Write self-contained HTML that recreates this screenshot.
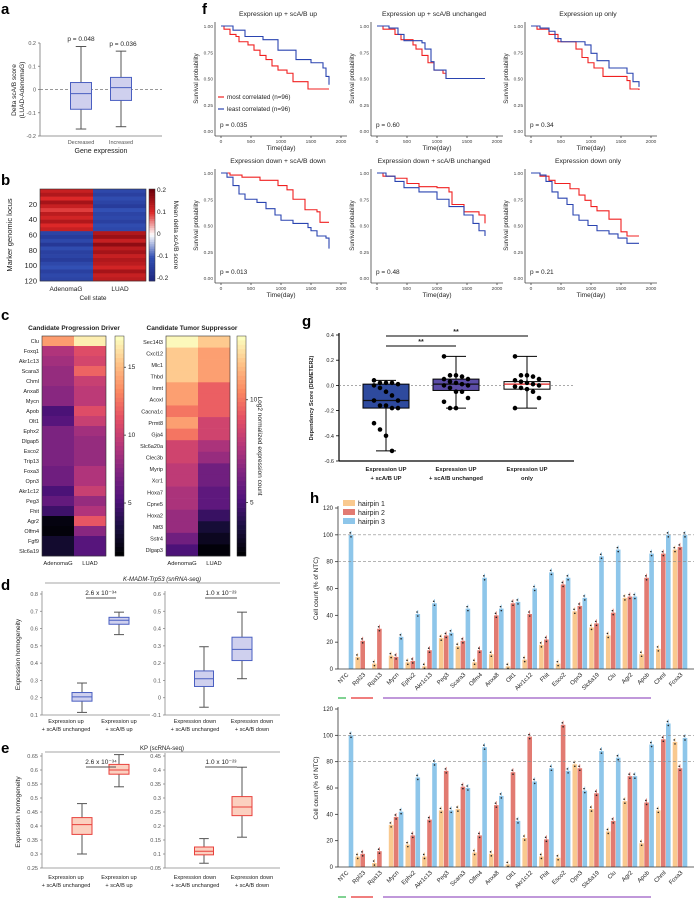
<!DOCTYPE html>
<html><head><meta charset="utf-8"><style>
html,body{margin:0;padding:0;background:#fff;}
svg{display:block;font-family:"Liberation Sans",Arial,sans-serif;}
</style></head><body>
<svg id="fig" width="697" height="900" viewBox="0 0 697 900" xmlns="http://www.w3.org/2000/svg"></svg>
<script>
// ---------------- DATA ----------------
// panel a
const aCats = ["Decreased","Increased"];
const aStats = [[-0.17,-0.085,-0.018,0.03,0.185],[-0.16,-0.047,0.008,0.052,0.165]];
const aP = ["p = 0.048","p = 0.036"];
// panel b (24 bands of 5 rows)
const bAden = [0.12,0.14,0.10,0.15,0.12,0.09,0.13,0.11,0.14,0.10,0.12,-0.13,-0.15,-0.12,-0.16,-0.11,-0.14,-0.13,-0.15,-0.12,-0.10,-0.14,-0.12,-0.13];
const bLuad = [-0.12,-0.14,-0.11,-0.13,-0.15,-0.10,-0.13,-0.12,-0.14,-0.11,-0.12,0.14,0.16,0.12,0.17,0.13,0.15,0.12,0.14,0.13,0.11,0.15,0.12,0.13];
// panel c
const cDrvGenes = ["Clu","Foxq1","Akr1c13","Scara3","Chml","Anxa8","Mycn","Apob","Olt1","Ephx2","Dlgap5","Esco2","Trip13","Foxa3","Opn3","Akr1c12","Peg3","Fhit","Agr2","Olfm4","Fgf9","Slc6a19"];
const cDrvAden = [14,9,8.5,8,8,7.5,7.5,5,5.5,7,7,7,7,6.5,6.5,5,6,4.5,1.5,1.3,2.5,2.5];
const cDrvLuad = [16.8,11,10.5,12,10,9.5,9.5,11,10,8.5,8,8,8,9,9,10,8,9,11.5,7.5,5.5,5.5];
const cSupGenes = ["Sec14l3","Cxcl12","Mlc1","Thbd","Inmt","Acoxl","Cacna1c","Prmt8","Gja4","Slc6a20a","Clec3b","Myrip","Xcr1","Hoxa7","Cpne5","Hoxa2","Ntf3","Sstr4","Dlgap3"];
const cSupAden = [13,12,12,12,11,11,10,11,10,8.5,8.5,8,8,7.5,7.5,7,7,6,5];
const cSupLuad = [12,11,11,11,9.5,9.5,9.5,8.5,8.5,7.5,7,6,6,5.5,5.5,4.5,3.5,3,2.5];
// panel d/e
const dLeft = [[0.115,0.18,0.205,0.23,0.285],[0.565,0.625,0.648,0.665,0.695]];
const dRight = [[-0.055,0.065,0.11,0.155,0.295],[0.11,0.215,0.28,0.35,0.495]];
const eLeft = [[0.3,0.37,0.405,0.43,0.48],[0.54,0.585,0.6,0.62,0.655]];
const eRight = [[0.067,0.097,0.11,0.125,0.155],[0.16,0.237,0.268,0.305,0.41]];
// panel f (KM step curves [day, survival])
const fTitles = ["Expression up + scA/B up","Expression up + scA/B unchanged","Expression up only","Expression down + scA/B down","Expression down + scA/B unchanged","Expression down only"];
const fP = ["p = 0.035","p = 0.60","p = 0.34","p = 0.013","p = 0.48","p = 0.21"];
const fRed = [
 [[0,1],[50,.97],[150,.92],[250,.9],[300,.85],[450,.82],[550,.77],[650,.72],[750,.68],[850,.62],[950,.58],[1100,.55],[1200,.47],[1450,.4],[1800,.4]],
 [[0,1],[100,.97],[300,.92],[400,.87],[600,.82],[650,.78],[750,.72],[850,.65],[950,.58],[1100,.55],[1150,.5],[1800,.5]],
 [[0,1],[100,.97],[300,.92],[450,.85],[750,.78],[850,.7],[950,.65],[1050,.6],[1200,.52],[1600,.48],[1650,.4],[1800,.39]],
 [[0,1],[150,.98],[350,.96],[650,.93],[950,.88],[1100,.84],[1200,.75],[1400,.65],[1600,.63],[1650,.53],[1800,.53]],
 [[0,1],[100,.97],[300,.95],[500,.9],[700,.87],[1000,.86],[1200,.82],[1250,.7],[1450,.63],[1700,.6],[1800,.52]],
 [[0,1],[150,.97],[300,.93],[400,.9],[650,.85],[800,.79],[900,.74],[1000,.68],[1100,.64],[1300,.56],[1500,.44],[1600,.4],[1800,.4]]];
const fBlue = [
 [[0,1],[200,.96],[400,.9],[700,.87],[950,.77],[1250,.68],[1500,.65],[1700,.6],[1750,.52],[1800,.44]],
 [[0,1],[200,.98],[350,.92],[450,.86],[750,.84],[800,.78],[900,.66],[950,.58],[1150,.5],[1800,.5]],
 [[0,1],[150,.98],[300,.95],[400,.88],[500,.85],[900,.82],[1000,.74],[1100,.67],[1300,.6],[1600,.55],[1700,.47],[1800,.42]],
 [[0,1],[100,.96],[200,.88],[300,.8],[400,.75],[600,.72],[750,.66],[900,.6],[1000,.55],[1200,.52],[1450,.48],[1500,.45],[1600,.4],[1750,.38],[1800,.28]],
 [[0,1],[150,.97],[300,.92],[450,.86],[700,.82],[1000,.75],[1200,.68],[1450,.6],[1600,.52],[1700,.45],[1800,.4]],
 [[0,1],[150,.98],[250,.92],[350,.82],[450,.76],[600,.7],[700,.6],[800,.55],[950,.5],[1100,.45],[1300,.42],[1450,.38],[1600,.33],[1800,.33]]];
// panel g
const gCats = [["Expression UP","+ scA/B UP"],["Expression UP","+ scA/B unchanged"],["Expression UP","only"]];
const gStats = [[-0.52,-0.18,-0.12,0.01,0.04],[-0.18,-0.04,0.01,0.05,0.23],[-0.18,-0.03,0.01,0.03,0.23]];
const gPts1 = [0.04,0.02,0.02,0.02,0.01,0.0,-0.02,-0.05,-0.08,-0.12,-0.12,-0.16,-0.16,-0.18,-0.18,-0.3,-0.35,-0.4,-0.52];
const gPts2 = [0.23,0.08,0.08,0.07,0.05,0.05,0.03,0.02,0.01,0,0,-0.02,-0.05,-0.05,-0.1,-0.13,-0.18,-0.18];
const gPts3 = [0.23,0.08,0.08,0.07,0.05,0.04,0.03,0.02,0.01,0,-0.01,-0.02,-0.03,-0.05,-0.1,-0.18];
// panel h
const hGenes = ["NTC","Rpl23","Rpa13","Mycn","Ephx2","Akr1c13","Peg3","Scara3","Olfm4","Anxa8","Olt1","Akr1c12","Fhit","Esco2","Opn3","Slc6a19","Clu","Agr2","Apob","Chml","Foxa3"];
const hTop1 = [null,9,4,10,5,2,23,17,5,11,2,7,18,4,43,31,25,53,11,15,89];
const hTop2 = [null,21,30,9,6,14,25,21,14,40,49,41,22,63,47,34,42,54,68,86,91];
const hTop3 = [100,null,null,24,41,49,27,45,68,45,50,60,72,68,53,84,89,54,86,100,100];
const hBot1 = [null,8,3,32,17,8,43,44,11,10,2,22,8,7,78,44,27,50,18,43,95];
const hBot2 = [null,10,12,38,24,36,73,61,24,47,72,99,21,108,75,56,35,69,49,97,75];
const hBot3 = [100,null,null,42,68,79,43,60,91,54,35,65,75,73,58,88,83,69,93,109,98];
const hYTicks = [0,20,40,60,80,100,120];

// ---------------- HELPERS ----------------
const NS="http://www.w3.org/2000/svg";
const svg=document.getElementById('fig');
function mk(tag,attrs,parent){const e=document.createElementNS(NS,tag);for(const k in attrs)e.setAttribute(k,attrs[k]);(parent||svg).appendChild(e);return e;}
function txt(x,y,s,size,opts){opts=opts||{};const e=mk('text',{x:x,y:y,'font-size':size,fill:opts.fill||'#222','text-anchor':opts.anchor||'start','font-weight':opts.bold?'bold':'normal'});if(opts.rot!==undefined)e.setAttribute('transform','rotate('+opts.rot+' '+x+' '+y+')');if(opts.italic)e.setAttribute('font-style','italic');e.textContent=s;return e;}
function lin(d0,d1,r0,r1){return v=>r0+(v-d0)*(r1-r0)/(d1-d0);}
function line(x1,y1,x2,y2,st,w,dash){const e=mk('line',{x1:x1,y1:y1,x2:x2,y2:y2,stroke:st||'#333','stroke-width':w||0.8});if(dash)e.setAttribute('stroke-dasharray',dash);return e;}
function magma(t){const s=[[0,0,0,4],[.13,28,16,68],[.25,79,18,123],[.38,129,37,129],[.5,181,54,122],[.63,229,80,100],[.75,251,135,97],[.88,254,194,135],[1,252,253,191]];t=Math.max(0,Math.min(1,t));for(let i=1;i<s.length;i++){if(t<=s[i][0]){const a=s[i-1],b=s[i],f=(t-a[0])/(b[0]-a[0]);return 'rgb('+[1,2,3].map(j=>Math.round(a[j]+f*(b[j]-a[j]))).join(',')+')';}}return 'rgb(252,253,191)';}
function rdbu(v){const t=(v+0.2)/0.4;const s=[[0,30,40,130],[.25,50,80,180],[.5,255,255,255],[.75,220,40,40],[1,110,0,10]];for(let i=1;i<s.length;i++){if(t<=s[i][0]){const a=s[i-1],b=s[i],f=(t-a[0])/(b[0]-a[0]);return 'rgb('+[1,2,3].map(j=>Math.round(a[j]+f*(b[j]-a[j]))).join(',')+')';}}return 'rgb(110,0,10)';}
function box(cx,w,st,y,fill,stroke,name){
 const g=mk('g',{});
 
 
 mk('line',{x1:cx,y1:y(st[0]),x2:cx,y2:y(st[4]),stroke:'#555','stroke-width':1},g);
 mk('line',{x1:cx-w/4,y1:y(st[0]),x2:cx+w/4,y2:y(st[0]),stroke:'#555','stroke-width':1},g);
 mk('line',{x1:cx-w/4,y1:y(st[4]),x2:cx+w/4,y2:y(st[4]),stroke:'#555','stroke-width':1},g);
 mk('rect',{x:cx-w/2,y:y(st[3]),width:w,height:y(st[1])-y(st[3]),fill:fill,stroke:stroke,'stroke-width':1},g);
 mk('line',{x1:cx-w/2,y1:y(st[2]),x2:cx+w/2,y2:y(st[2]),stroke:stroke,'stroke-width':1},g);
 return g;}
function label(x,y,s){const t=txt(x,y,s,15,{bold:true,fill:'#000'});}

// ---------------- PANEL A ----------------
label(1,14,'a');
(function(){
 const y=lin(-0.2,0.2,136,43);
 line(40,43,40,136,'#777');line(40,136,162,136,'#777');
 [0.2,0.1,0,-0.1,-0.2].forEach(v=>{line(38,y(v),40,y(v),'#777');txt(36,y(v)+2,String(v),5.5,{anchor:'end',fill:'#555'});});
 line(40,y(0),162,y(0),'#777',0.8,'3,2');
 const xs=[81,121];
 aStats.forEach((s,i)=>box(xs[i],21,s,y,'#cfd0ee','#4a5fc1','a-box-'+aCats[i].toLowerCase()));
 aCats.forEach((c,i)=>txt(xs[i],144,c,5.5,{anchor:'middle',fill:'#555'}));
 aP.forEach((p,i)=>txt(xs[i]+(i?2:0),i?46:41,p,6.5,{anchor:'middle'}));
 txt(101,153,'Gene expression',7,{anchor:'middle'});
 txt(16,90,'Delta scA/B score',6.5,{anchor:'middle',rot:-90});
 txt(24,90,'(LUAD-AdenomaG)',6.5,{anchor:'middle',rot:-90});
})();

// ---------------- PANEL B ----------------
label(1,185,'b');
(function(){
 const y0=189,rowH=92/24;
 const hm=mk('g',{});
 
 
 bAden.forEach((v,i)=>mk('rect',{x:40,y:y0+i*rowH,width:53,height:rowH+0.3,fill:rdbu(v)},hm));
 bLuad.forEach((v,i)=>mk('rect',{x:93,y:y0+i*rowH,width:53,height:rowH+0.3,fill:rdbu(v)},hm));
 mk('rect',{x:40,y:y0,width:106,height:92,fill:'none',stroke:'#333','stroke-width':0.6});
 [20,40,60,80,100,120].forEach(r=>{const yy=y0+r*92/120;txt(37,yy+2.5,String(r),7.5,{anchor:'end'});});
 txt(12,235,'Marker genomic locus',7.5,{anchor:'middle',rot:-90});
 for(let i=0;i<40;i++){mk('rect',{x:149,y:y0+i*92/40,width:6,height:92/40+0.3,fill:rdbu(0.2-i*0.4/39)});}
 mk('rect',{x:149,y:y0,width:6,height:92,fill:'none',stroke:'#333','stroke-width':0.5});
 ['0.2','0.1','0','-0.1','-0.2'].forEach((s,i)=>txt(157,y0+3+i*22,s,6.5));
 txt(174,235,'Mean delta scA/B score',6.5,{anchor:'middle',rot:90});
 txt(66,291,'AdenomaG',6.5,{anchor:'middle'});txt(120,291,'LUAD',6.5,{anchor:'middle'});
 txt(93,300,'Cell state',6.5,{anchor:'middle'});
})();

// ---------------- PANEL C ----------------
label(1,320,'c');
(function(){
 txt(74,330,'Candidate Progression Driver',6.5,{anchor:'middle',bold:true});
 txt(192,330,'Candidate Tumor Suppressor',6.5,{anchor:'middle',bold:true});
 function hm(genes,a,l,x0,cb,vmin,vmax,name){
  const g=mk('g',{});
  
  
  const rh=220/genes.length;
  genes.forEach((gn,i)=>{
   mk('rect',{x:x0,y:336+i*rh,width:32,height:rh+0.3,fill:magma((a[i]-vmin)/(vmax-vmin))},g);
   mk('rect',{x:x0+32,y:336+i*rh,width:32,height:rh+0.3,fill:magma((l[i]-vmin)/(vmax-vmin))},g);
   txt(x0-3,336+i*rh+rh/2+2,gn,5.5,{anchor:'end'});
  });
  mk('rect',{x:x0,y:336,width:64,height:220,fill:'none',stroke:'#333','stroke-width':0.6});
  for(let i=0;i<50;i++){mk('rect',{x:cb,y:336+i*4.4,width:9,height:4.7,fill:magma(1-i/49)});}
  mk('rect',{x:cb,y:336,width:9,height:220,fill:'none',stroke:'#333','stroke-width':0.5});
  txt(x0+16,565,'AdenomaG',5.8,{anchor:'middle'});txt(x0+48,565,'LUAD',5.8,{anchor:'middle'});
 }
 hm(cDrvGenes,cDrvAden,cDrvLuad,42,115,1.1,17.3,'c-driver-heatmap');
 [15,10,5].forEach(v=>{const yy=lin(1.1,17.3,556,336)(v);line(124,yy,126,yy);txt(128,yy+2,String(v),6.5);});
 hm(cSupGenes,cSupAden,cSupLuad,166,237,2.4,13.1,'c-suppressor-heatmap');
 [10,5].forEach(v=>{const yy=lin(2.4,13.1,556,336)(v);line(246,yy,248,yy);txt(250,yy+2,String(v),6.5);});
 txt(258,446,'Log2 normalized expression count',6.5,{anchor:'middle',rot:90});
})();

// ---------------- PANEL D / E ----------------
function homPanel(top,head,italic,ticksL,ticksR,left,right,fill,stroke,pre,yAx0,yAx1,lblY){
 line(45,top,280,top,'#888',0.8);
 txt(162,top-2,head[0],6,{anchor:'middle',italic:italic});
 const yL=lin(ticksL[0],ticksL[ticksL.length-1],yAx1,yAx0);
 const yR=lin(ticksR[0],ticksR[ticksR.length-1],yAx1,yAx0);
 line(42,yAx0-3,42,yAx1,'#888');line(42,yAx1,150,yAx1,'#888');
 line(165,yAx0-3,165,yAx1,'#888');line(165,yAx1,280,yAx1,'#888');
 ticksL.forEach(v=>{line(40,yL(v),42,yL(v),'#888');txt(38,yL(v)+2,String(v),5.5,{anchor:'end',fill:'#555'});});
 ticksR.forEach(v=>{line(163,yR(v),165,yR(v),'#888');txt(161,yR(v)+2,String(v),5.5,{anchor:'end',fill:'#555'});});
 box(82,20,left[0],yL,fill,stroke,pre+'-box-1');box(119,20,left[1],yL,fill,stroke,pre+'-box-2');
 box(204,19,right[0],yR,fill,stroke,pre+'-box-3');box(242,20,right[1],yR,fill,stroke,pre+'-box-4');
 line(86,top+15,116,top+15,'#555',0.9);line(205,top+15,237,top+15,'#555',0.9);
 txt(101,top+12,'2.6 x 10⁻³⁴',6.5,{anchor:'middle'});txt(221,top+12,'1.0 x 10⁻²³',6.5,{anchor:'middle'});
 txt(20,(yAx0+yAx1)/2,'Expression homogeneity',6.5,{anchor:'middle',rot:-90});
 const lbl=[[66,'Expression up','+ scA/B unchanged'],[119,'Expression up','+ scA/B up'],[195,'Expression down','+ scA/B unchanged'],[252,'Expression down','+ scA/B down']];
 lbl.forEach(l=>{txt(l[0],lblY,l[1],5.6,{anchor:'middle'});txt(l[0],lblY+8,l[2],5.6,{anchor:'middle'});});
}
label(1,590,'d');
homPanel(583,['K-MADM-Trp53 (snRNA-seq)'],true,[0.1,0.2,0.3,0.4,0.5,0.6,0.7,0.8],[-0.1,0,0.1,0.2,0.3,0.4,0.5,0.6],dLeft,dRight,'#cfd0ee','#4a5fc1','d',594,715,723);
label(1,753,'e');
homPanel(752,['KP (scRNA-seq)'],false,[0.25,0.3,0.35,0.4,0.45,0.5,0.55,0.6,0.65],[0.05,0.1,0.15,0.2,0.25,0.3,0.35,0.4,0.45],eLeft,eRight,'#fbd0c0','#e8413c','e',756,868,879);

// ---------------- PANEL F ----------------
label(202,14,'f');
(function(){
 const ox=[215,371,525], oy=[[26,131],[173,278]];
 fTitles.forEach((t,k)=>{
  const c=k%3,r=Math.floor(k/3);
  const ax=ox[c], y=lin(0,1,oy[r][1],oy[r][0]), x=lin(0,2000,ax+6,ax+126);
  const g=mk('g',{});
  
  
  line(ax,oy[r][0]-4,ax,oy[r][1]+5,'#444');line(ax,oy[r][1]+5,ax+132,oy[r][1]+5,'#444');
  [0,.25,.5,.75,1].forEach(v=>txt(ax-2,y(v)+2,v.toFixed(2),4.8,{anchor:'end',fill:'#444'}));
  [0,500,1000,1500,2000].forEach(v=>{line(x(v),oy[r][1]+5,x(v),oy[r][1]+7,'#444');txt(x(v),oy[r][1]+12,String(v),4.8,{anchor:'middle',fill:'#444'});});
  txt(ax+66,oy[r][1]+19,'Time(day)',6.5,{anchor:'middle'});
  txt(ax-17,(oy[r][0]+oy[r][1])/2,'Survival probability',6,{anchor:'middle',rot:-90});
  txt(ax+63,oy[r][0]-10,t,6.8,{anchor:'middle'});
  [[fRed[k],'#f02020'],[fBlue[k],'#2a44b0']].forEach(sc=>{
   let d='M'+x(sc[0][0][0])+' '+y(sc[0][0][1]);
   for(let i=1;i<sc[0].length;i++){d+=' H'+x(sc[0][i][0])+' V'+y(sc[0][i][1]);}
   const p=mk('path',{d:d,fill:'none',stroke:sc[1],'stroke-width':1.1},g);
   
   
  });
  txt(ax+5,oy[r][1]-4,fP[k],6.5);
 });
 line(218,97,224,97,'#f02020',1.2);txt(227,99,'most correlated (n=96)',6.3);
 line(218,109,224,109,'#2a44b0',1.2);txt(227,111,'least correlated (n=96)',6.3);
})();

// ---------------- PANEL G ----------------
label(302,326,'g');
(function(){
 const y=lin(-0.6,0.4,461,335);
 const xs=[386,456,527];
 line(339,333,339,461,'#000',1.2);line(339,461,574,461,'#000',1.2);
 [0.4,0.2,0,-0.2,-0.4,-0.6].forEach(v=>{line(336,y(v),339,y(v),'#000');txt(334,y(v)+2,v.toFixed(1),5.5,{anchor:'end'});});
 line(339,y(0),574,y(0),'#777',0.6,'2,2');
 txt(313,398,'Dependency Score (DEMETER2)',5.5,{anchor:'middle',rot:-90,bold:true});
 const fills=['#2e4a9e','#5b4ca6','#ffffff'], meds=['#111','#111','#e02020'];
 const pts=[gPts1,gPts2,gPts3];
 gStats.forEach((s,i)=>{
  const g=mk('g',{});
  
  
  mk('line',{x1:xs[i],y1:y(s[0]),x2:xs[i],y2:y(s[4]),stroke:'#000','stroke-width':1},g);
  mk('line',{x1:xs[i]-10,y1:y(s[0]),x2:xs[i]+10,y2:y(s[0]),stroke:'#000','stroke-width':1},g);
  mk('line',{x1:xs[i]-10,y1:y(s[4]),x2:xs[i]+10,y2:y(s[4]),stroke:'#000','stroke-width':1},g);
  mk('rect',{x:xs[i]-23,y:y(s[3]),width:46,height:y(s[1])-y(s[3]),fill:fills[i],stroke:'#000','stroke-width':1},g);
  mk('line',{x1:xs[i]-23,y1:y(s[2]),x2:xs[i]+23,y2:y(s[2]),stroke:meds[i],'stroke-width':1.2},g);
  pts[i].forEach((v,j)=>{const off=((j%5)-2)*6;mk('circle',{cx:xs[i]+off,cy:y(v),r:2.3,fill:'#000'},g);});
  txt(xs[i],471,gCats[i][0],5.8,{anchor:'middle',bold:true});txt(xs[i],480,gCats[i][1],5.8,{anchor:'middle',bold:true});
 });
 line(386,346,456,346,'#000',1);txt(421,344,'**',7,{anchor:'middle',bold:true});
 line(386,336,528,336,'#000',1);txt(456,334,'**',7,{anchor:'middle',bold:true});
})();

// ---------------- PANEL H ----------------
label(310,503,'h');
(function(){
 const cols=['#f9c98f','#e27b72','#8ec6ea'];
 function chart(top,bot,s1,s2,s3,lineY,name){
  const y=lin(0,120,bot,top), x0=346, dx=16.7;
  const g=mk('g',{});
  
  
  line(338,top-2,338,bot,'#333');line(338,bot,694,bot,'#333');
  hYTicks.forEach(v=>{line(335,y(v),338,y(v),'#333');txt(333,y(v)+2,String(v),6,{anchor:'end'});});
  [100,80].forEach(v=>line(338,y(v),694,y(v),'#888',0.7,'3,2'));
  txt(318,(top+bot)/2,'Cell count (% of NTC)',6.5,{anchor:'middle',rot:-90});
  hGenes.forEach((gn,i)=>{
   const cx=x0+i*dx;
   [s1,s2,s3].forEach((s,j)=>{
    if(s[i]===null)return;
    const bx=cx+(j-1)*5-2.3;
    mk('rect',{x:bx,y:y(s[i]),width:4.6,height:bot-y(s[i]),fill:cols[j]},g);
    mk('line',{x1:bx+2.3,y1:y(s[i]),x2:bx+2.3,y2:y(s[i])-4,stroke:cols[j],'stroke-width':0.8},g);
    mk('circle',{cx:bx+2.3,cy:y(s[i])+2,r:0.8,fill:'#222'},g);
    mk('circle',{cx:bx+1.5,cy:y(s[i])-2,r:0.8,fill:'#222'},g);
   });
   txt(cx+3,bot+6,gn,6,{anchor:'end',rot:-45});
  });
  line(338,lineY,346,lineY,'#2bb34a',1.2);line(351,lineY,373,lineY,'#e83030',1.2);line(383,lineY,651,lineY,'#9b5bc4',1.2);
 }
 chart(508,669,hTop1,hTop2,hTop3,698,'h-top-chart');
 chart(709,867,hBot1,hBot2,hBot3,897,'h-bottom-chart');
 ['hairpin 1','hairpin 2','hairpin 3'].forEach((s,i)=>{
  const r=mk('rect',{x:343,y:500+i*9,width:12,height:6,fill:cols[i]});
  
  
  txt(358,506+i*9,s,7);
 });
})();
</script>
</body></html>
